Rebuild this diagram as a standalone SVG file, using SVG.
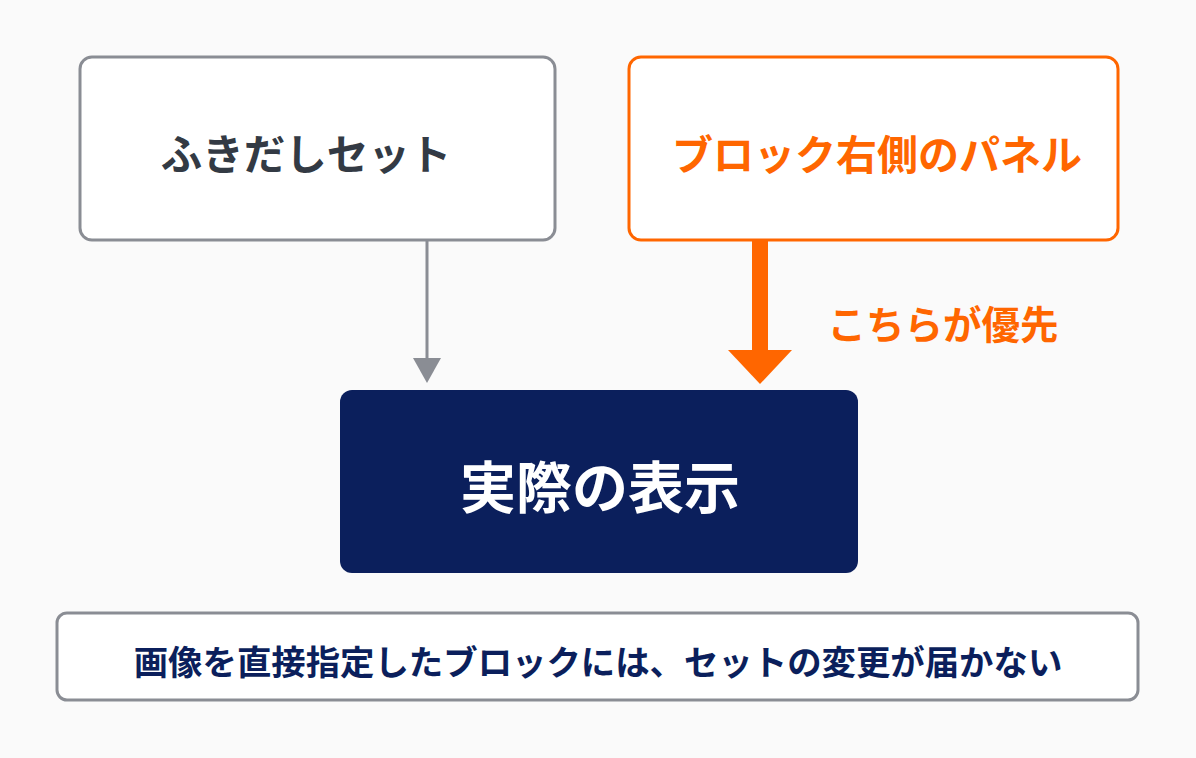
<svg xmlns="http://www.w3.org/2000/svg" width="1196" height="758" viewBox="0 0 1196 758">
<style>
text{font-family:"Noto Sans CJK JP","Noto Sans",sans-serif;font-weight:700;text-anchor:middle;dominant-baseline:central}
.gray{fill:#fff;stroke:#8a8d94;stroke-width:3}
</style>
<rect width="1196" height="758" fill="#fafafa"/>
<g id="fukidashi"><rect class="gray" x="80" y="57" width="475" height="183" rx="12"/><text x="306" y="152" font-size="41.5" fill="#333a44">ふきだしセット</text></g>
<g id="panel"><rect x="629" y="57" width="489" height="183" rx="12" fill="#fff" stroke="#ff6600" stroke-width="3"/><text x="877" y="152" font-size="41" fill="#ff6600">ブロック右側のパネル</text></g>
<g id="display"><rect x="340" y="390" width="518" height="183" rx="12" fill="#0b1f5c"/><text x="600" y="483" font-size="56" fill="#fff">実際の表示</text></g>
<g id="note"><rect class="gray" x="57" y="613" width="1081" height="87" rx="10"/><text x="598" y="660" font-size="34.4" fill="#0b1f5c">画像を直接指定したブロックには、セットの変更が届かない</text></g>
<g id="connectors">
<line x1="427" y1="240" x2="427" y2="360" stroke="#8a8d94" stroke-width="3"/>
<polygon points="413,358 441,358 427,383" fill="#8a8d94"/>
<rect x="752" y="240" width="16" height="112" fill="#ff6600"/>
<polygon points="728,350 792,350 760,384" fill="#ff6600"/>
<text x="943" y="322" font-size="38.5" fill="#ff6600">こちらが優先</text>
</g>
</svg>
